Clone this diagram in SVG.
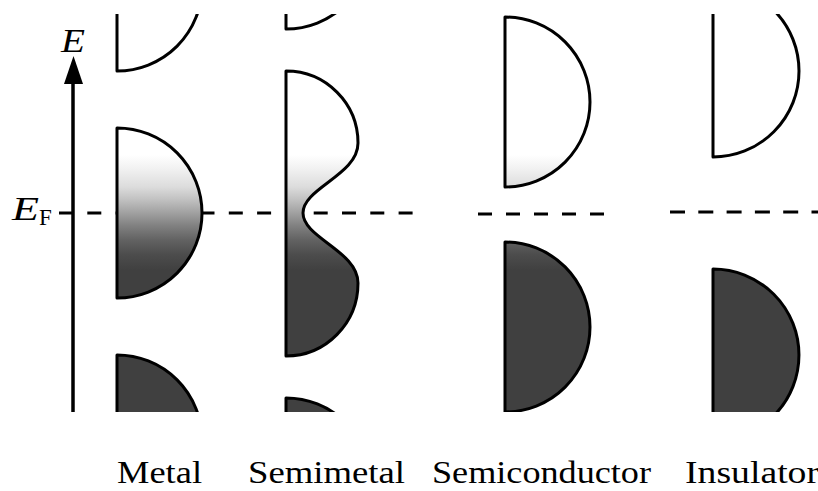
<svg xmlns="http://www.w3.org/2000/svg" width="818" height="491" viewBox="0 0 818 491">
<style>
.band{stroke:#000;stroke-width:3;stroke-linejoin:round;fill:url(#fermi)}
.dash{stroke:#000;stroke-width:3;fill:none}
.lbl{font-family:"Liberation Serif","Times New Roman",serif;font-size:32px;fill:#000}
.sym{font-family:"Liberation Serif","Times New Roman",serif;font-style:italic;font-size:33px;fill:#000}
</style>
<defs>
<linearGradient id="fermi" gradientUnits="userSpaceOnUse" x1="0" y1="140" x2="0" y2="286">
<stop offset="0.103" stop-color="#ffffff"/>
<stop offset="0.205" stop-color="#f0f0f0"/>
<stop offset="0.322" stop-color="#dcdcdc"/>
<stop offset="0.411" stop-color="#c0c0c0"/>
<stop offset="0.5" stop-color="#a0a0a0"/>
<stop offset="0.589" stop-color="#808080"/>
<stop offset="0.685" stop-color="#626262"/>
<stop offset="0.788" stop-color="#4c4c4c"/>
<stop offset="0.89" stop-color="#404040"/>
</linearGradient>
<clipPath id="clip"><rect x="0" y="14" width="818" height="398"/></clipPath>
</defs>
<rect width="818" height="491" fill="#fff"/>
<g id="connectors">
<line id="axis" x1="73" y1="412" x2="73" y2="80" stroke="#000" stroke-width="3.5"/>
<polygon points="64,84 83,84 73.5,56" fill="#000"/>
<line class="dash" x1="59" y1="213" x2="413" y2="213" stroke-dasharray="14 14.3"/>
<line class="dash" x1="478" y1="214" x2="606" y2="214" stroke-dasharray="14 14"/>
<line class="dash" x1="670" y1="212" x2="818" y2="212" stroke-dasharray="15 13.3"/>
</g>
<g clip-path="url(#clip)">
<g id="metal">
<path class="band" d="M117,-99 L117,71 A85,85 0 0 0 202,-14 Z"/>
<path class="band" d="M117,128 A85,85 0 0 1 117,298 Z"/>
<path class="band" d="M117,355 A85,85 0 0 1 202,440 L117,440 Z"/>
</g>
<g id="semimetal">
<path class="band" d="M286,-56 L286,29 A85,85 0 0 0 371,-56 Z"/>
<path class="band" d="M286,71 A72,72 0 0 1 358,143 C358,175 303,188 303,213 C303,238 358,251 358,283 A72,73 0 0 1 286,356 Z"/>
<path class="band" d="M286,398 A85,85 0 0 1 371,483 L286,483 Z"/>
</g>
<g id="semiconductor">
<path class="band" d="M505,17 A85,85 0 0 1 505,187 Z"/>
<path class="band" d="M505,242 A85,85 0 0 1 505,412 Z"/>
</g>
<g id="insulator">
<path class="band" d="M713,-15 A86,86 0 0 1 713,157 Z"/>
<path class="band" d="M713,269 A86,86 0 0 1 713,441 Z"/>
</g>
</g>
<g id="labels">
<text class="sym" x="61" y="52" textLength="24" lengthAdjust="spacingAndGlyphs">E</text>
<text class="sym" x="12" y="220" textLength="27" lengthAdjust="spacingAndGlyphs">E</text>
<text class="lbl" x="39" y="225" style="font-size:23px">F</text>
<text class="lbl" x="117" y="483" textLength="85" lengthAdjust="spacingAndGlyphs">Metal</text>
<text class="lbl" x="248" y="483" textLength="157" lengthAdjust="spacingAndGlyphs">Semimetal</text>
<text class="lbl" x="432" y="483" textLength="219" lengthAdjust="spacingAndGlyphs">Semiconductor</text>
<text class="lbl" x="685" y="483" textLength="134" lengthAdjust="spacingAndGlyphs">Insulator</text>
</g>
</svg>
